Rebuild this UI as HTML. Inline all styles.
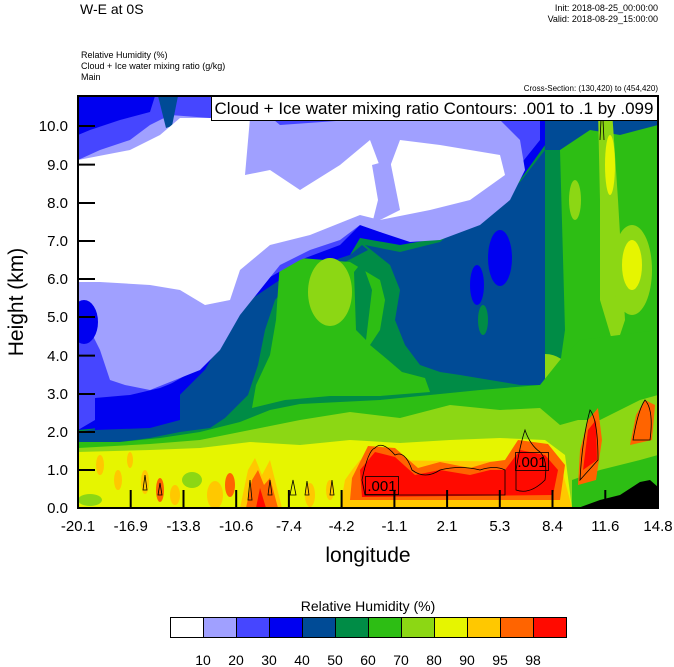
<!DOCTYPE html>
<html><head><meta charset="utf-8"><style>
body{margin:0;background:#fff;}
svg{display:block;font-family:"Liberation Sans",Arial,sans-serif;}
</style></head><body>
<svg width="674" height="667" viewBox="0 0 674 667" xmlns="http://www.w3.org/2000/svg">
<defs><clipPath id="c"><rect x="78" y="96" width="580" height="412"/></clipPath></defs>
<text x="80" y="14" font-size="14">W-E at 0S</text>
<text x="658" y="11" font-size="9" text-anchor="end">Init: 2018-08-25_00:00:00</text>
<text x="658" y="22" font-size="9" text-anchor="end">Valid: 2018-08-29_15:00:00</text>
<text x="81" y="58" font-size="9">Relative Humidity   (%)</text>
<text x="81" y="69" font-size="9">Cloud + Ice water mixing ratio   (g/kg)</text>
<text x="81" y="80" font-size="9">Main</text>
<text x="658" y="91" font-size="8" text-anchor="end">Cross-Section: (130,420) to (454,420)</text>
<g clip-path="url(#c)">
<rect x="78" y="96" width="580" height="412" fill="#008c46"/>
<polygon fill="#2dbe14" points="545,140 560,120 600,110 658,100 658,508 545,508"/>
<polygon fill="#004b96" points="540,96 658,96 658,125 620,135 590,130 560,150 545,150"/>
<polygon fill="#008c46" points="545,150 560,150 565,330 555,400 545,420"/>
<polygon fill="#8cd714" points="598,110 612,110 618,200 625,320 615,350 600,300 600,200"/>
<ellipse cx="632" cy="270" rx="20" ry="45" fill="#8cd714"/>
<ellipse cx="632" cy="265" rx="10" ry="25" fill="#e6f500"/>
<ellipse cx="610" cy="165" rx="5" ry="30" fill="#e6f500"/>
<ellipse cx="575" cy="200" rx="6" ry="20" fill="#8cd714"/>
<ellipse cx="545" cy="370" rx="22" ry="16" fill="#8cd714"/>
<polygon fill="#0000f0" points="78,96 545,96 545,145 520,180 470,215 440,238 400,245 360,238 350,255 320,265 280,280 250,300 225,335 205,370 180,395 150,410 130,420 100,428 78,430"/>
<polygon fill="#004b96" points="365,245 400,252 440,242 470,218 520,182 545,150 545,385 520,385 490,380 460,375 440,372 420,365 405,345 395,320 400,290 390,265"/>
<polygon fill="#004b96" points="78,432 100,428 130,420 150,410 180,395 205,370 225,335 250,300 280,280 320,265 350,255 362,245 368,250 345,262 310,270 290,282 275,300 265,330 258,365 248,395 225,418 210,428 180,432 150,438 120,442 78,442"/>
<ellipse cx="500" cy="258" rx="12" ry="28" fill="#0000f0"/>
<ellipse cx="477" cy="285" rx="7" ry="20" fill="#0000f0"/>
<ellipse cx="483" cy="320" rx="5" ry="15" fill="#008c46"/>
<polygon fill="#2dbe14" points="280,262 300,258 350,262 380,280 385,300 380,330 370,345 388,360 402,372 425,378 430,392 380,396 330,396 285,400 252,408 256,385 270,355 276,320 278,290"/>
<polygon fill="#008c46" points="354,272 362,262 372,290 366,340 356,330"/>
<ellipse cx="330" cy="292" rx="22" ry="34" fill="#8cd714"/>
<polygon fill="#4646ff" points="78,96 540,96 540,140 500,190 460,215 420,228 380,232 360,225 340,245 300,260 265,280 240,310 215,345 195,370 160,390 130,398 100,400 95,420 78,430"/>
<polygon fill="#0000f0" points="95,398 130,395 160,388 180,380 180,420 150,428 95,430"/>
<polygon fill="#0000f0" points="78,96 155,96 150,112 120,120 90,130 78,135"/>
<polygon fill="#0000f0" points="230,96 540,96 530,115 470,110 400,108 330,110 260,112"/>
<polygon fill="#a0a0ff" points="78,160 100,150 130,140 150,125 170,115 210,118 240,110 250,100 280,125 350,120 420,115 500,120 520,140 525,170 510,200 480,225 440,240 410,242 380,232 360,225 340,240 310,250 280,265 260,290 240,315 220,350 200,370 175,380 150,390 125,385 110,380 100,350 90,330 78,330"/>
<ellipse cx="84" cy="322" rx="14" ry="22" fill="#0000f0"/>
<polygon fill="#004b96" points="158,96 178,96 172,126 166,128"/>
<polygon fill="#ffffff" points="78,160 130,150 160,135 180,118 250,118 245,175 270,170 300,190 340,165 370,140 385,180 400,140 440,145 500,155 505,175 470,200 430,210 380,220 360,215 310,235 270,245 240,270 230,300 205,305 180,290 150,285 100,282 78,282"/>
<polygon fill="#a0a0ff" points="372,165 390,160 400,210 372,224 378,200"/>
<polygon fill="#2dbe14" points="78,442 120,442 160,438 200,432 240,422 270,410 300,404 380,400 430,395 480,390 540,385 560,360 580,340 658,330 658,508 78,508"/>
<polygon fill="#8cd714" points="78,448 150,444 200,440 250,430 300,420 350,412 400,418 450,405 500,410 540,408 560,425 578,420 600,420 620,410 640,400 658,395 658,508 78,508"/>
<polygon fill="#e6f500" points="78,452 150,450 200,448 250,442 300,445 350,440 400,443 450,440 500,438 545,440 565,455 572,508 78,508"/>
<polygon fill="#2dbe14" points="572,480 600,470 640,460 658,455 658,508 572,508"/>
<ellipse cx="90" cy="500" rx="12" ry="6" fill="#8cd714"/>
<ellipse cx="192" cy="480" rx="10" ry="8" fill="#8cd714"/>
<ellipse cx="215" cy="495" rx="8" ry="14" fill="#ffc800"/>
<ellipse cx="100" cy="465" rx="4" ry="10" fill="#ffc800"/>
<ellipse cx="118" cy="480" rx="4" ry="10" fill="#ffc800"/>
<ellipse cx="130" cy="460" rx="3" ry="8" fill="#ffc800"/>
<ellipse cx="145" cy="482" rx="4" ry="12" fill="#ffc800"/>
<ellipse cx="160" cy="490" rx="4" ry="12" fill="#ff6400"/>
<ellipse cx="175" cy="495" rx="5" ry="10" fill="#ffc800"/>
<ellipse cx="230" cy="485" rx="5" ry="12" fill="#ff6400"/>
<ellipse cx="310" cy="495" rx="5" ry="12" fill="#ffc800"/>
<ellipse cx="330" cy="490" rx="4" ry="10" fill="#ffc800"/>
<polygon fill="#ffc800" points="240,508 248,470 255,458 262,475 270,460 282,508"/>
<polygon fill="#ff6400" points="246,508 252,480 258,470 264,485 270,478 278,508"/>
<polygon fill="#ff0a00" points="256,508 260,488 266,508"/>
<polygon fill="#ffc800" points="340,508 345,480 352,470 360,460 560,462 572,508"/>
<polygon fill="#ff6400" points="352,478 368,446 395,448 418,468 440,462 470,468 490,462 505,460 518,440 548,444 565,465 560,500 350,500"/>
<polygon fill="#ff0a00" points="360,470 375,452 395,457 415,475 440,470 470,475 490,470 505,470 520,450 545,455 558,470 553,495 362,497"/>
<polygon fill="#ff6400" points="578,485 580,450 588,420 598,408 602,440 596,480"/>
<polygon fill="#ff0a00" points="583,470 588,430 596,420 597,460"/>
<polygon fill="#ff6400" points="630,445 636,415 645,400 655,405 652,440"/>
<polygon fill="#000" points="578,508 600,500 620,495 640,482 650,480 658,487 658,508"/>
<g fill="none" stroke="#000" stroke-width="0.8">
<path d="M362,480 Q368,450 375,448 Q382,440 395,455 Q405,450 412,470 Q425,480 440,470 Q460,465 480,470 Q495,465 505,470 L505,495 L365,495 Z"/>
<path d="M516,470 Q520,445 525,430 Q530,445 540,452 Q548,460 545,480 Q530,495 516,490 Z"/>
<path d="M580,480 Q582,440 590,410 Q598,420 598,460 Z"/>
<path d="M633,440 Q638,410 645,400 Q654,410 650,440 Z"/>
<path d="M143,490 l2,-15 l2,15 z"/><path d="M158,495 l2,-12 l2,12 z"/><path d="M248,500 l2,-20 l2,20 z"/><path d="M268,495 l2,-15 l2,15 z"/>
<path d="M290,495 l3,-15 l3,15 z"/><path d="M305,495 l2,-14 l2,14 z"/><path d="M330,495 l2,-15 l2,15 z"/>
<path d="M600,140 l2,-40 l2,40"/>
</g>
</g>
<rect x="365.5" y="476.5" width="33" height="18" fill="none" stroke="#000" stroke-width="0.8"/>
<text x="382" y="491" font-size="15" text-anchor="middle">.001</text>
<rect x="515.5" y="452.5" width="33" height="18" fill="none" stroke="#000" stroke-width="0.8"/>
<text x="532" y="467" font-size="15" text-anchor="middle">.001</text>
<rect x="78" y="96" width="580" height="412" fill="none" stroke="#000" stroke-width="2"/>
<rect x="211.5" y="96.5" width="446" height="24" fill="#fff" stroke="#000" stroke-width="1"/>
<text x="434" y="114" font-size="17" text-anchor="middle">Cloud + Ice water mixing ratio Contours: .001 to .1 by .099</text>
<g stroke="#000" stroke-width="2">
<line x1="78" y1="470" x2="95" y2="470"/><line x1="78" y1="432" x2="95" y2="432"/><line x1="78" y1="394" x2="95" y2="394"/><line x1="78" y1="355.6" x2="95" y2="355.6"/><line x1="78" y1="317" x2="95" y2="317"/><line x1="78" y1="279" x2="95" y2="279"/><line x1="78" y1="241" x2="95" y2="241"/><line x1="78" y1="203" x2="95" y2="203"/><line x1="78" y1="164.6" x2="95" y2="164.6"/><line x1="78" y1="126" x2="95" y2="126"/>
<line x1="130.7" y1="508" x2="130.7" y2="490"/><line x1="183.5" y1="508" x2="183.5" y2="490"/><line x1="236.2" y1="508" x2="236.2" y2="490"/><line x1="288.9" y1="508" x2="288.9" y2="490"/><line x1="341.6" y1="508" x2="341.6" y2="490"/><line x1="394.4" y1="508" x2="394.4" y2="490"/><line x1="447.1" y1="508" x2="447.1" y2="490"/><line x1="499.8" y1="508" x2="499.8" y2="490"/><line x1="552.5" y1="508" x2="552.5" y2="490"/><line x1="605.3" y1="508" x2="605.3" y2="490"/>
</g>
<g font-size="15" text-anchor="end">
<text x="68" y="513">0.0</text><text x="68" y="475">1.0</text><text x="68" y="437">2.0</text><text x="68" y="399">3.0</text><text x="68" y="361">4.0</text><text x="68" y="322">5.0</text><text x="68" y="284">6.0</text><text x="68" y="246">7.0</text><text x="68" y="208">8.0</text><text x="68" y="170">9.0</text><text x="68" y="131">10.0</text>
</g>
<g font-size="15" text-anchor="middle">
<text x="78" y="531">-20.1</text><text x="130.7" y="531">-16.9</text><text x="183.5" y="531">-13.8</text><text x="236.2" y="531">-10.6</text><text x="288.9" y="531">-7.4</text><text x="341.6" y="531">-4.2</text><text x="394.4" y="531">-1.1</text><text x="447.1" y="531">2.1</text><text x="499.8" y="531">5.3</text><text x="552.5" y="531">8.4</text><text x="605.3" y="531">11.6</text><text x="658" y="531">14.8</text>
</g>
<text x="368" y="562" font-size="21" text-anchor="middle">longitude</text>
<text transform="translate(23,302) rotate(-90)" font-size="21" text-anchor="middle">Height (km)</text>
<text x="368" y="611" font-size="14" text-anchor="middle">Relative Humidity  (%)</text>
<g stroke="#000" stroke-width="1">
<rect x="170.5" y="617.5" width="33" height="20" fill="#fff"/>
<rect x="203.5" y="617.5" width="33" height="20" fill="#a0a0ff"/>
<rect x="236.5" y="617.5" width="33" height="20" fill="#4646ff"/>
<rect x="269.5" y="617.5" width="33" height="20" fill="#0000f0"/>
<rect x="302.5" y="617.5" width="33" height="20" fill="#004b96"/>
<rect x="335.5" y="617.5" width="33" height="20" fill="#008c46"/>
<rect x="368.5" y="617.5" width="33" height="20" fill="#2dbe14"/>
<rect x="401.5" y="617.5" width="33" height="20" fill="#8cd714"/>
<rect x="434.5" y="617.5" width="33" height="20" fill="#e6f500"/>
<rect x="467.5" y="617.5" width="33" height="20" fill="#ffc800"/>
<rect x="500.5" y="617.5" width="33" height="20" fill="#ff6400"/>
<rect x="533.5" y="617.5" width="33" height="20" fill="#ff0a00"/>
</g>
<g font-size="14" text-anchor="middle">
<text x="203" y="665">10</text><text x="236" y="665">20</text><text x="269" y="665">30</text><text x="302" y="665">40</text><text x="335" y="665">50</text><text x="368" y="665">60</text><text x="401" y="665">70</text><text x="434" y="665">80</text><text x="467" y="665">90</text><text x="500" y="665">95</text><text x="533" y="665">98</text>
</g>
</svg>
</body></html>
